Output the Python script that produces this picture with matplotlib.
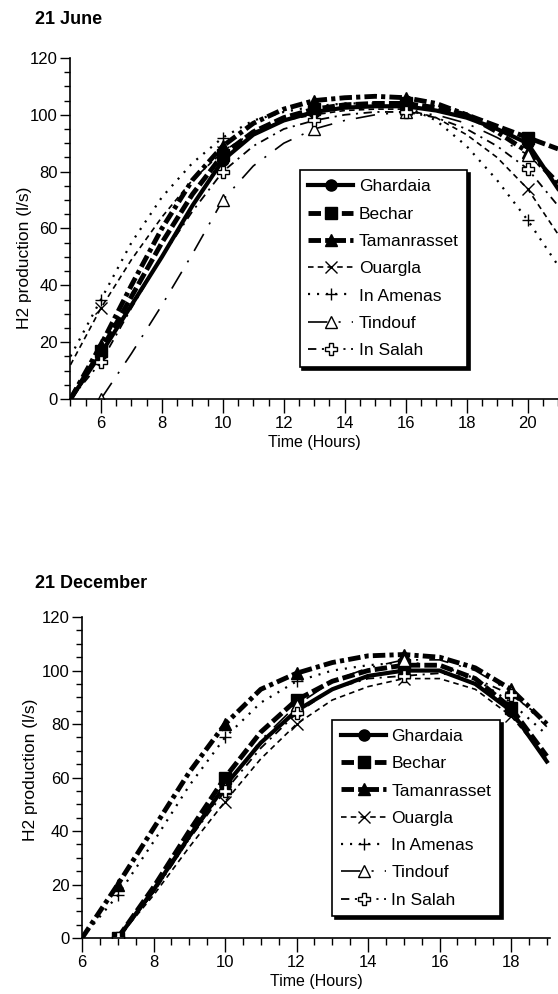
import matplotlib
matplotlib.use("Agg")
import matplotlib.pyplot as plt
import numpy as np
from matplotlib.ticker import MultipleLocator

plt.rcParams['font.family'] = ['Liberation Sans Narrow', 'Liberation Sans', 'DejaVu Sans']
plt.rcParams['lines.scale_dashes'] = False

nan = np.nan
names = ["Ghardaia", "Bechar", "Tamanrasset", "Ouargla", "In Amenas", "Tindouf", "In Salah"]

# 21 June, hourly values
june_hours = [5, 6, 7, 8, 9, 10, 11, 12, 13, 14, 15, 16, 17, 18, 19, 20, 21]
june_marks = [6, 10, 13, 16, 20]
june_ghardaia = [0, 16, 33, 50, 68, 84, 93, 98, 101, 102.5, 103, 103, 101.5, 99, 95, 90, 74]
june_bechar = [0, 17, 36, 55, 72, 86, 94, 99, 102, 103.5, 104, 104, 102.5, 100, 96, 92, 88]
june_tamanrasset = [0, 19, 40, 60, 77, 89, 97, 102, 105, 106, 106.5, 106, 104, 100, 94, 87, 76]
june_ouargla = [12, 32, 49, 64, 77, 87, 94, 98, 100, 101.5, 102, 102, 99, 93, 85, 74, 58]
june_inamenas = [15, 35, 55, 71, 83, 92, 98, 101, 103, 104, 104, 103, 98, 89, 77, 63, 47]
june_tindouf = [nan, 0, 16, 33, 51, 70, 82, 90, 95, 98, 100, 101, 100, 97, 92, 86, 76]
june_insalah = [0, 13, 32, 50, 66, 80, 89, 95, 98, 100, 101, 101, 99, 95, 89, 81, 68]

# 21 December
dec_hours = [6, 7, 8, 9, 10, 11, 12, 13, 14, 15, 16, 17, 18, 19]
dec_marks = [7, 10, 12, 15, 18]
dec_ghardaia = [nan, 0, 18, 38, 57, 73, 85, 93, 98, 100, 100, 95, 85, 66]
dec_bechar = [nan, 0, 19, 40, 60, 77, 89, 96, 100, 102, 102, 97, 86, 68]
dec_tamanrasset = [0, 20, 41, 62, 80, 93, 99, 103, 105.5, 106, 105, 101, 93, 80]
dec_ouargla = [nan, 0, 16, 34, 51, 67, 80, 89, 94, 97, 97, 93, 83, 67]
dec_inamenas = [0, 16, 36, 57, 75, 88, 96, 100, 102, 103, 102, 97, 88, 76]
dec_tindouf = [nan, 0, 17, 37, 56, 74, 87, 96, 101, 104, 104, 100, 92, 79]
dec_insalah = [nan, 0, 17, 37, 55, 71, 84, 93, 97, 98, 99, 97, 91, 81]

june = [june_ghardaia, june_bechar, june_tamanrasset, june_ouargla,
        june_inamenas, june_tindouf, june_insalah]
dec = [dec_ghardaia, dec_bechar, dec_tamanrasset, dec_ouargla,
       dec_inamenas, dec_tindouf, dec_insalah]

styles = [
    dict(lw=3, ls='-', marker='o', ms=8, mfc='k'),
    dict(lw=3.5, ls=(0, (9, 3)), marker='s', ms=9, mfc='k'),
    dict(lw=3.5, ls=(0, (9, 3, 3, 3)), marker='^', ms=9, mfc='k'),
    dict(lw=1.2, ls=(0, (4, 3)), marker='x', ms=8, mew=1),
    dict(lw=1.6, ls=(0, (1.5, 5)), marker='+', ms=9, mew=1),
    dict(lw=1.2, ls=(0, (14, 8, 1.5, 8)), marker='^', ms=8, mfc='white', mew=1),
    dict(lw=1.3, ls=(0, (6, 4, 1.5, 4)), marker='P', ms=9, mfc='white', mew=1),
]


def draw(ax, hours, marks, series, xlim, legend_at, ylab_pos):
    idx = [hours.index(m) for m in marks]
    for name, vals, st in zip(names, series, styles):
        ax.plot(hours, vals, color='k', mec='k', markevery=idx, label=name, **st)
    ax.set_xlim(*xlim)
    ax.set_ylim(0, 120)
    ax.xaxis.set_major_locator(MultipleLocator(2))
    ax.xaxis.set_minor_locator(MultipleLocator(0.5))
    ax.yaxis.set_major_locator(MultipleLocator(20))
    ax.yaxis.set_minor_locator(MultipleLocator(5))
    ax.tick_params(axis='y', which='major', direction='out', length=7, width=1, labelsize=12, pad=2)
    ax.tick_params(axis='y', which='minor', direction='out', length=4, width=1)
    ax.tick_params(axis='x', which='major', direction='out', length=10, width=1, labelsize=12, pad=2)
    ax.tick_params(axis='x', which='minor', direction='out', length=5, width=1)
    for s in ['top', 'right']:
        ax.spines[s].set_visible(False)
    for s in ['left', 'bottom']:
        ax.spines[s].set_linewidth(1.2)
    ax.set_xlabel("Time (Hours)", fontsize=11.5, family='Liberation Sans', labelpad=3)
    ax.set_ylabel("H2 production (l/s)", fontsize=12.5, family='Liberation Sans')
    ax.yaxis.set_label_coords(*ylab_pos)
    leg = ax.legend(loc='upper left', bbox_to_anchor=legend_at, borderaxespad=0,
                    fontsize=12.5, frameon=True, fancybox=False, edgecolor='k',
                    shadow={'color': 'k', 'alpha': 1}, handlelength=2.6,
                    handletextpad=0.3, labelspacing=0.7, borderpad=0.5)
    leg.get_frame().set_linewidth(1.2)


fig = plt.figure(figsize=(5.58, 9.94), dpi=100)
ax1 = fig.add_axes([0.1263, 0.5986, 0.8737, 0.3431])
ax2 = fig.add_axes([0.147, 0.0563, 0.8387, 0.3229])

draw(ax1, june_hours, june_marks, june, (5, 21), (0.47, 0.67), (-0.078, 0.415))
draw(ax2, dec_hours, dec_marks, dec, (6, 19.09), (0.535, 0.679), (-0.094, 0.523))

fig.text(35 / 558, 1 - 20 / 994, "21 June", fontsize=13, fontweight='bold', va='center')
fig.text(35 / 558, 1 - 583 / 994, "21 December", fontsize=13, fontweight='bold', va='center')

fig.savefig("out.png", dpi=100)
